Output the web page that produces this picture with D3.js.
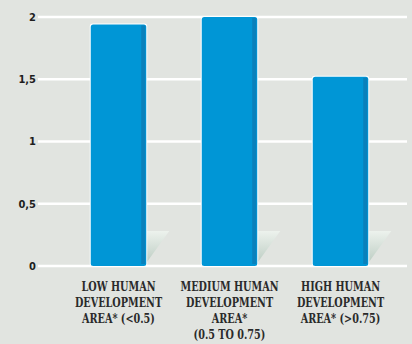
<!DOCTYPE html>
<html>
<head>
<meta charset="utf-8">
<script src="https://cdn.jsdelivr.net/npm/d3@7"></script>
<style>
  body { margin: 0; background: #e1e4e0; }
  svg { display: block; }
</style>
</head>
<body>
<svg id="chart"></svg>
<script>
// data
const categories = ["low", "medium", "high"];
const labelLines = [
    ["LOW HUMAN", "DEVELOPMENT", "AREA* (<0.5)"],
    ["MEDIUM HUMAN", "DEVELOPMENT", "AREA*", "(0.5 TO 0.75)"],
    ["HIGH HUMAN", "DEVELOPMENT", "AREA* (>0.75)"]
];
const values = [1.94, 2.0, 1.52];
const ticks = [0, 0.5, 1, 1.5, 2];

const width = 412;
const height = 344;

const svg = d3.select("#chart")
    .attr("width", width)
    .attr("height", height);

svg.append("rect")
    .attr("width", width)
    .attr("height", height)
    .attr("fill", "#e1e4e0");

// scales
const x = d3.scaleBand()
    .domain(categories)
    .range([63, 396])
    .paddingInner(0.5)
    .paddingOuter(0.25);

const y = d3.scaleLinear()
    .domain([0, 2])
    .range([266, 17]);

// gradient for the little shadow behind each bar
const defs = svg.append("defs");
const grad = defs.append("linearGradient")
    .attr("id", "shade")
    .attr("x1", 0).attr("y1", 0)
    .attr("x2", 0).attr("y2", 1);
grad.append("stop").attr("offset", "0%").attr("stop-color", "#edf2ed");
grad.append("stop").attr("offset", "100%").attr("stop-color", "#bccdc3");

// gridlines (white)
svg.append("g")
    .selectAll("line")
    .data(ticks)
    .enter()
    .append("line")
    .attr("x1", 38)
    .attr("x2", 407)
    .attr("y1", d => y(d))
    .attr("y2", d => y(d))
    .attr("stroke", "#ffffff")
    .attr("stroke-width", 2.5);

// tick labels
svg.append("g")
    .selectAll("text")
    .data(ticks)
    .enter()
    .append("text")
    .attr("x", 36)
    .attr("y", d => y(d))
    .attr("dy", "0.35em")
    .attr("text-anchor", "end")
    .style("font-family", "'DejaVu Sans Condensed', 'DejaVu Sans', sans-serif")
    .style("font-size", "11px")
    .style("font-weight", "bold")
    .attr("fill", "#1e1e1e")
    .text(d => d3.format("")(d).replace(".", ","));

const bw = x.bandwidth();
const sh = 35; // shadow height in px
const bars = svg.append("g")
    .selectAll("g")
    .data(categories.map((c, i) => ({ c, v: values[i] })))
    .enter()
    .append("g");

// shadow
bars.append("path")
    .attr("d", d => {
        const x0 = x(d.c) + bw;
        const yb = y(0) - 3;
        return `M${x0},${yb - sh + 3}L${x0 + 23},${yb - sh + 3}L${x0},${yb}Z`;
    })
    .attr("fill", "url(#shade)");

// white outline
bars.append("rect")
    .attr("x", d => x(d.c) - 1)
    .attr("y", d => y(d.v) - 1)
    .attr("width", bw + 2)
    .attr("height", d => y(0) - y(d.v) + 2)
    .attr("rx", 3)
    .attr("fill", "#ffffff");

// bar body
bars.append("rect")
    .attr("x", d => x(d.c))
    .attr("y", d => y(d.v))
    .attr("width", bw)
    .attr("height", d => y(0) - y(d.v))
    .attr("rx", 2.5)
    .attr("fill", "#0096d6");

// darker right edge
bars.append("rect")
    .attr("x", d => x(d.c) + bw - 5)
    .attr("y", d => y(d.v) + 1)
    .attr("width", 4)
    .attr("height", d => y(0) - y(d.v) - 3)
    .attr("fill", "#0a80bb");

// category labels (slab serif, squeezed a bit to look condensed)
const labels = svg.append("g")
    .selectAll("g")
    .data(categories)
    .enter()
    .append("g")
    .attr("transform", d => `translate(${x(d) + bw / 2},291) scale(0.86,1)`)
    .append("text")
    .attr("x", 0)
    .attr("y", 0)
    .attr("text-anchor", "middle")
    .style("font-family", "'DejaVu Serif Condensed', 'DejaVu Serif', serif")
    .style("font-size", "12.5px")
    .style("font-weight", "bold")
    .attr("fill", "#2a2a2a");

labels.selectAll("tspan")
    .data((d, i) => labelLines[i])
    .enter()
    .append("tspan")
    .attr("x", 0)
    .attr("dy", (d, i) => i === 0 ? 0 : 16)
    .text(d => d);
</script>
</body>
</html>
